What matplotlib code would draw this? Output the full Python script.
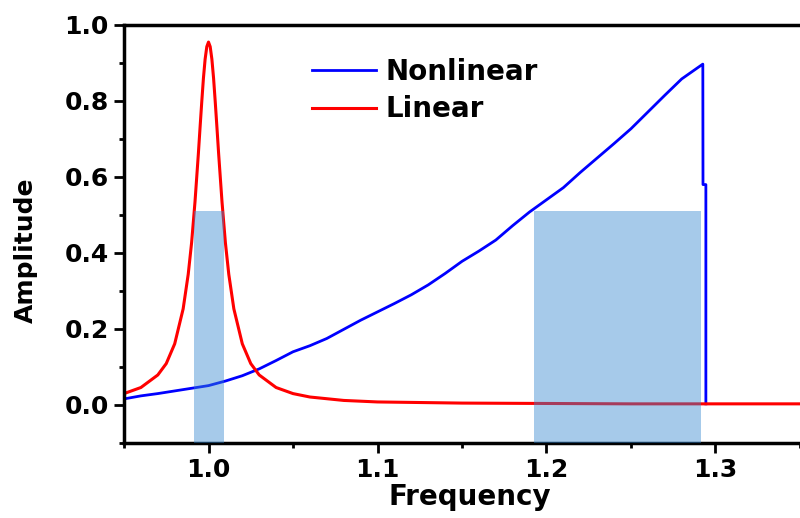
import numpy as np
import matplotlib.pyplot as plt
from matplotlib.ticker import MultipleLocator

plt.rcParams['font.family'] = ['DejaVu Sans']
plt.rcParams['font.weight'] = 'bold'

# nonlinear response
freq_nl = [0.95, 0.96, 0.97, 0.98, 0.99, 1.00, 1.01, 1.02, 1.03, 1.04, 1.05,
           1.06, 1.07, 1.08, 1.09, 1.10, 1.11, 1.12, 1.13, 1.14, 1.15, 1.16,
           1.17, 1.18, 1.19, 1.20, 1.21, 1.22, 1.23, 1.24, 1.25, 1.26, 1.27,
           1.28, 1.2925, 1.2926, 1.2943, 1.2943]
amp_nl = [0.016, 0.024, 0.030, 0.037, 0.044, 0.051, 0.063, 0.077, 0.095, 0.117,
          0.140, 0.156, 0.175, 0.199, 0.223, 0.245, 0.267, 0.290, 0.316, 0.346,
          0.378, 0.405, 0.434, 0.472, 0.508, 0.540, 0.572, 0.612, 0.650, 0.688,
          0.727, 0.771, 0.815, 0.858, 0.897, 0.580, 0.580, 0.003]

# linear resonance
freq_lin = [0.95, 0.96, 0.97, 0.975, 0.98, 0.985, 0.988, 0.99, 0.992, 0.994,
            0.995, 0.996, 0.997, 0.998, 0.999, 1.0, 1.001, 1.002, 1.003, 1.004,
            1.005, 1.006, 1.008, 1.01, 1.012, 1.015, 1.02, 1.025, 1.03, 1.04,
            1.05, 1.06, 1.08, 1.1, 1.15, 1.2, 1.25, 1.3, 1.35]
amp_lin = [0.030, 0.046, 0.079, 0.109, 0.161, 0.253, 0.344, 0.427, 0.534, 0.661,
           0.730, 0.797, 0.860, 0.910, 0.943, 0.955, 0.943, 0.910, 0.860, 0.797,
           0.730, 0.661, 0.534, 0.427, 0.344, 0.253, 0.161, 0.109, 0.079, 0.046,
           0.030, 0.021, 0.012, 0.008, 0.005, 0.004, 0.003, 0.003, 0.003]

# shaded bands
band_lo = [0.9915, 1.1925]
band_hi = [1.0092, 1.2917]
band_top = 0.51

fig = plt.figure(figsize=(8, 5.18), dpi=100)
ax = fig.add_axes([0.155, 0.1448, 0.845, 0.807])

ax.plot(freq_nl, amp_nl, color='#0000ff', lw=2.0, label='Nonlinear', zorder=2)
ax.plot(freq_lin, amp_lin, color='#ff0000', lw=2.2, label='Linear', zorder=2.5)

for lo, hi in zip(band_lo, band_hi):
    ax.fill_between([lo, hi], -0.1, band_top, color='#3588d1', alpha=0.44,
                    lw=0, zorder=3)

ax.set_xlim(0.95, 1.35)
ax.set_ylim(-0.1, 1.0)
ax.xaxis.set_minor_locator(MultipleLocator(0.05))
ax.yaxis.set_minor_locator(MultipleLocator(0.1))
ax.set_xticks([1.0, 1.1, 1.2, 1.3])
ax.set_yticks([0.0, 0.2, 0.4, 0.6, 0.8, 1.0])

ax.spines['right'].set_visible(False)
for s in ['left', 'bottom', 'top']:
    ax.spines[s].set_linewidth(2.5)

ax.tick_params(which='major', direction='out', length=7, width=2,
               labelsize=18, pad=4)
ax.tick_params(which='minor', direction='out', length=3.5, width=2)
ax.tick_params(axis='x', which='both', top=False)
for lab in ax.get_xticklabels() + ax.get_yticklabels():
    lab.set_fontweight('bold')

ax.set_xlabel('Frequency', fontsize=20, fontweight='bold')
ax.set_ylabel('Amplitude', fontsize=18, fontweight='bold')
ax.xaxis.set_label_coords(0.512, -0.095)
ax.yaxis.set_label_coords(-0.128, 0.46)

leg = ax.legend(loc='upper left', bbox_to_anchor=(0.278, 0.922), frameon=False,
                fontsize=20, handlelength=2.3, handletextpad=0.35,
                labelspacing=0.35, borderpad=0, borderaxespad=0)
for t in leg.get_texts():
    t.set_fontweight('bold')

fig.savefig('out.png', dpi=100)
